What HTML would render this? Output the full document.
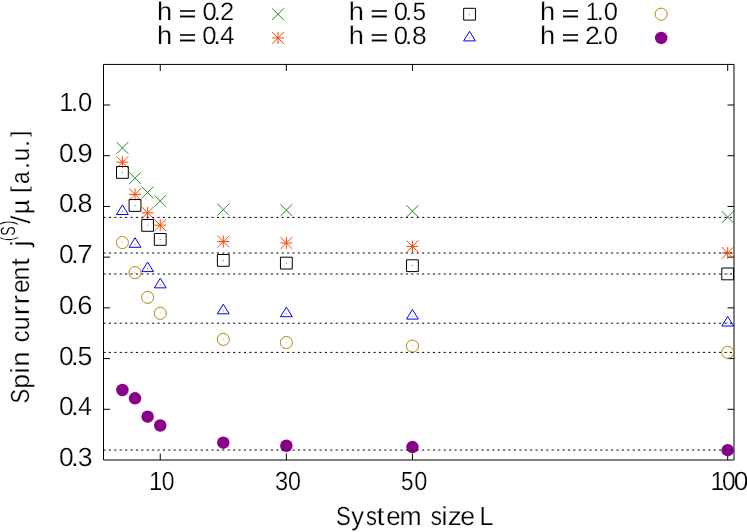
<!DOCTYPE html>
<html><head><meta charset="utf-8"><title>plot</title>
<style>
html,body{margin:0;padding:0;background:#fff;}
body{width:747px;height:532px;overflow:hidden;}
svg{display:block;will-change:transform;}
text{font-family:"Liberation Sans",sans-serif;fill:#000;text-rendering:geometricPrecision;stroke:#fff;stroke-width:0.25px;}
</style></head><body>
<svg width="747" height="532" viewBox="0 0 747 532">
<rect width="747" height="532" fill="#fff"/>

<path d="M103.5 409.29L110.0 409.29M734.0 409.29L727.5 409.29M103.5 358.57L110.0 358.57M734.0 358.57L727.5 358.57M103.5 307.86L110.0 307.86M734.0 307.86L727.5 307.86M103.5 257.14L110.0 257.14M734.0 257.14L727.5 257.14M103.5 206.43L110.0 206.43M734.0 206.43L727.5 206.43M103.5 155.72L110.0 155.72M734.0 155.72L727.5 155.72M103.5 105.00L110.0 105.00M734.0 105.00L727.5 105.00M160.25 460.0L160.25 453.5M160.25 64.43L160.25 70.93M286.35 460.0L286.35 453.5M286.35 64.43L286.35 70.93M412.44 460.0L412.44 453.5M412.44 64.43L412.44 70.93M727.69 460.0L727.69 453.5M727.69 64.43L727.69 70.93" stroke="#000" stroke-width="1" fill="none"/>
<path d="M103.5 64.43L103.5 460.0L734.0 460.0L734.0 64.43Z" stroke="#000" stroke-width="1" fill="none"/>
<text y="466.00" font-size="26.2"><tspan x="58.95" textLength="14.71" lengthAdjust="spacingAndGlyphs">0</tspan><tspan x="70.75" textLength="8.01" lengthAdjust="spacingAndGlyphs">.</tspan><tspan x="77.66" textLength="14.83" lengthAdjust="spacingAndGlyphs">3</tspan></text>
<text y="415.29" font-size="26.2"><tspan x="58.95" textLength="14.71" lengthAdjust="spacingAndGlyphs">0</tspan><tspan x="70.75" textLength="8.01" lengthAdjust="spacingAndGlyphs">.</tspan><tspan x="78.10" textLength="13.95" lengthAdjust="spacingAndGlyphs">4</tspan></text>
<text y="364.57" font-size="26.2"><tspan x="58.95" textLength="14.71" lengthAdjust="spacingAndGlyphs">0</tspan><tspan x="70.75" textLength="8.01" lengthAdjust="spacingAndGlyphs">.</tspan><tspan x="77.61" textLength="14.83" lengthAdjust="spacingAndGlyphs">5</tspan></text>
<text y="313.86" font-size="26.2"><tspan x="58.95" textLength="14.71" lengthAdjust="spacingAndGlyphs">0</tspan><tspan x="70.75" textLength="8.01" lengthAdjust="spacingAndGlyphs">.</tspan><tspan x="77.29" textLength="15.23" lengthAdjust="spacingAndGlyphs">6</tspan></text>
<text y="263.14" font-size="26.2"><tspan x="58.95" textLength="14.71" lengthAdjust="spacingAndGlyphs">0</tspan><tspan x="70.75" textLength="8.01" lengthAdjust="spacingAndGlyphs">.</tspan><tspan x="77.25" textLength="15.46" lengthAdjust="spacingAndGlyphs">7</tspan></text>
<text y="212.43" font-size="26.2"><tspan x="58.95" textLength="14.71" lengthAdjust="spacingAndGlyphs">0</tspan><tspan x="70.75" textLength="8.01" lengthAdjust="spacingAndGlyphs">.</tspan><tspan x="77.51" textLength="14.98" lengthAdjust="spacingAndGlyphs">8</tspan></text>
<text y="161.72" font-size="26.2"><tspan x="58.95" textLength="14.71" lengthAdjust="spacingAndGlyphs">0</tspan><tspan x="70.75" textLength="8.01" lengthAdjust="spacingAndGlyphs">.</tspan><tspan x="77.40" textLength="15.22" lengthAdjust="spacingAndGlyphs">9</tspan></text>
<text y="111.00" font-size="26.2"><tspan x="59.26" textLength="13.98" lengthAdjust="spacingAndGlyphs">1</tspan><tspan x="70.55" textLength="8.01" lengthAdjust="spacingAndGlyphs">.</tspan><tspan x="77.98" textLength="14.24" lengthAdjust="spacingAndGlyphs">0</tspan></text>
<text y="489.7" font-size="26.2"><tspan x="148.95" textLength="13.34" lengthAdjust="spacingAndGlyphs">1</tspan><tspan x="161.69" textLength="12.73" lengthAdjust="spacingAndGlyphs">0</tspan></text>
<text y="489.7" font-size="26.2"><tspan x="275.08" textLength="13.18" lengthAdjust="spacingAndGlyphs">3</tspan><tspan x="288.07" textLength="12.96" lengthAdjust="spacingAndGlyphs">0</tspan></text>
<text y="489.7" font-size="26.2"><tspan x="400.88" textLength="12.48" lengthAdjust="spacingAndGlyphs">5</tspan><tspan x="414.36" textLength="13.08" lengthAdjust="spacingAndGlyphs">0</tspan></text>
<text y="489.7" font-size="26.2"><tspan x="710.40" textLength="13.72" lengthAdjust="spacingAndGlyphs">1</tspan><tspan x="722.02" textLength="13.66" lengthAdjust="spacingAndGlyphs">0</tspan><tspan x="733.75" textLength="14.71" lengthAdjust="spacingAndGlyphs">0</tspan></text>
<text y="525" font-size="26.2"><tspan x="336.08" textLength="14.76" lengthAdjust="spacingAndGlyphs">S</tspan><tspan x="351.32" textLength="12.75" lengthAdjust="spacingAndGlyphs">y</tspan><tspan x="365.97" textLength="10.94" lengthAdjust="spacingAndGlyphs">s</tspan><tspan x="376.48" textLength="8.01" lengthAdjust="spacingAndGlyphs">t</tspan><tspan x="386.28" textLength="14.39" lengthAdjust="spacingAndGlyphs">e</tspan><tspan x="399.61" textLength="22.16" lengthAdjust="spacingAndGlyphs">m</tspan> <tspan x="430.86" textLength="11.17" lengthAdjust="spacingAndGlyphs">s</tspan><tspan x="441.31" textLength="6.40" lengthAdjust="spacingAndGlyphs">i</tspan><tspan x="447.79" textLength="14.02" lengthAdjust="spacingAndGlyphs">z</tspan><tspan x="460.24" textLength="14.86" lengthAdjust="spacingAndGlyphs">e</tspan> <tspan x="479.43" textLength="13.93" lengthAdjust="spacingAndGlyphs">L</tspan></text>
<g transform="translate(28.85,401) rotate(-90)">
<text y="0" font-size="26.2"><tspan x="-2.42" textLength="14.64" lengthAdjust="spacingAndGlyphs">S</tspan><tspan x="12.17" textLength="14.77" lengthAdjust="spacingAndGlyphs">p</tspan><tspan x="27.36" textLength="6.40" lengthAdjust="spacingAndGlyphs">i</tspan><tspan x="34.40" textLength="14.91" lengthAdjust="spacingAndGlyphs">n</tspan> <tspan x="58.78" textLength="11.76" lengthAdjust="spacingAndGlyphs">c</tspan><tspan x="70.86" textLength="13.86" lengthAdjust="spacingAndGlyphs">u</tspan><tspan x="85.78" textLength="9.60" lengthAdjust="spacingAndGlyphs">r</tspan><tspan x="96.63" textLength="9.60" lengthAdjust="spacingAndGlyphs">r</tspan><tspan x="107.94" textLength="13.68" lengthAdjust="spacingAndGlyphs">e</tspan><tspan x="120.52" textLength="13.93" lengthAdjust="spacingAndGlyphs">n</tspan><tspan x="135.13" textLength="8.01" lengthAdjust="spacingAndGlyphs">t</tspan> <tspan x="154.27" textLength="6.40" lengthAdjust="spacingAndGlyphs">j</tspan><tspan x="160.05" dy="-14.60" font-size="20.5" textLength="4.45" lengthAdjust="spacingAndGlyphs">(</tspan><tspan x="165.24" dy="0.75" font-size="20.5" textLength="9.43" lengthAdjust="spacingAndGlyphs">S</tspan><tspan x="175.80" dy="-0.75" font-size="20.5" textLength="4.70" lengthAdjust="spacingAndGlyphs">)</tspan><tspan x="177.27" dy="16.20" font-size="27" textLength="8.25" lengthAdjust="spacingAndGlyphs">/</tspan><tspan x="186.64" dy="-1.60" textLength="14.66" lengthAdjust="spacingAndGlyphs">µ</tspan> <tspan x="208.14" dy="-1.90" font-size="23" textLength="6.98" lengthAdjust="spacingAndGlyphs">[</tspan><tspan x="217.12" dy="1.90" textLength="12.60" lengthAdjust="spacingAndGlyphs">a</tspan><tspan x="231.55" textLength="8.01" lengthAdjust="spacingAndGlyphs">.</tspan><tspan x="239.80" textLength="13.54" lengthAdjust="spacingAndGlyphs">u</tspan><tspan x="253.57" textLength="8.01" lengthAdjust="spacingAndGlyphs">.</tspan><tspan x="263.90" dy="-1.90" font-size="23" textLength="6.49" lengthAdjust="spacingAndGlyphs">]</tspan></text>
</g>
<text y="20" font-size="26.2"><tspan x="157.14" font-size="25.6" textLength="15.15" lengthAdjust="spacingAndGlyphs">h</tspan> <tspan x="178.86" dy="1.00" font-size="22" stroke="#000" stroke-width="0.3" textLength="17.60" lengthAdjust="spacingAndGlyphs">=</tspan> <tspan x="202.48" dy="-1.00" font-size="25.2" textLength="14.24" lengthAdjust="spacingAndGlyphs">0</tspan><tspan x="213.55" font-size="25.2" textLength="7.70" lengthAdjust="spacingAndGlyphs">.</tspan><tspan x="220.09" font-size="25.2" textLength="14.21" lengthAdjust="spacingAndGlyphs">2</tspan></text>
<path d="M272.10 8.30L283.90 20.10M272.10 20.10L283.90 8.30" stroke="#228B22" fill="none"/>
<text y="44" font-size="26.2"><tspan x="157.14" font-size="25.6" textLength="15.15" lengthAdjust="spacingAndGlyphs">h</tspan> <tspan x="178.86" dy="1.00" font-size="22" stroke="#000" stroke-width="0.3" textLength="17.60" lengthAdjust="spacingAndGlyphs">=</tspan> <tspan x="202.28" dy="-1.00" font-size="25.2" textLength="14.24" lengthAdjust="spacingAndGlyphs">0</tspan><tspan x="213.35" font-size="25.2" textLength="7.70" lengthAdjust="spacingAndGlyphs">.</tspan><tspan x="220.08" font-size="25.2" textLength="14.61" lengthAdjust="spacingAndGlyphs">4</tspan></text>
<path d="M272.10 32.00L283.90 43.80M272.10 43.80L283.90 32.00M272.10 37.90L283.90 37.90M278.00 32.00L278.00 43.80" stroke="#FF4500" fill="none"/>
<text y="20" font-size="26.2"><tspan x="348.69" font-size="25.6" textLength="15.15" lengthAdjust="spacingAndGlyphs">h</tspan> <tspan x="370.41" dy="1.00" font-size="22" stroke="#000" stroke-width="0.3" textLength="17.60" lengthAdjust="spacingAndGlyphs">=</tspan> <tspan x="393.78" dy="-1.00" font-size="25.2" textLength="14.24" lengthAdjust="spacingAndGlyphs">0</tspan><tspan x="404.85" font-size="25.2" textLength="7.70" lengthAdjust="spacingAndGlyphs">.</tspan><tspan x="412.50" font-size="25.2" textLength="13.65" lengthAdjust="spacingAndGlyphs">5</tspan></text>
<path d="M463.65 8.30L463.65 20.10L475.45 20.10L475.45 8.30Z" stroke="#000000" fill="none"/><path d="M469.55 13.70L469.55 14.70" stroke="#000000" stroke-opacity="0.6" fill="none"/>
<text y="44" font-size="26.2"><tspan x="348.69" font-size="25.6" textLength="15.15" lengthAdjust="spacingAndGlyphs">h</tspan> <tspan x="370.41" dy="1.00" font-size="22" stroke="#000" stroke-width="0.3" textLength="17.60" lengthAdjust="spacingAndGlyphs">=</tspan> <tspan x="393.78" dy="-1.00" font-size="25.2" textLength="14.24" lengthAdjust="spacingAndGlyphs">0</tspan><tspan x="404.85" font-size="25.2" textLength="7.70" lengthAdjust="spacingAndGlyphs">.</tspan><tspan x="412.03" font-size="25.2" textLength="14.74" lengthAdjust="spacingAndGlyphs">8</tspan></text>
<path d="M463.65 40.90L469.55 31.30L475.45 40.90Z" stroke="#0000FF" fill="none"/><path d="M469.55 37.40L469.55 38.40" stroke="#0000FF" stroke-opacity="0.6" fill="none"/>
<text y="20" font-size="26.2"><tspan x="540.14" font-size="25.6" textLength="15.15" lengthAdjust="spacingAndGlyphs">h</tspan> <tspan x="561.86" dy="1.00" font-size="22" stroke="#000" stroke-width="0.3" textLength="17.60" lengthAdjust="spacingAndGlyphs">=</tspan> <tspan x="585.72" dy="-1.00" font-size="25.2" textLength="13.21" lengthAdjust="spacingAndGlyphs">1</tspan><tspan x="596.60" font-size="25.2" textLength="7.70" lengthAdjust="spacingAndGlyphs">.</tspan><tspan x="603.83" font-size="25.2" textLength="14.24" lengthAdjust="spacingAndGlyphs">0</tspan></text>
<circle cx="661.20" cy="14.20" r="6.05" stroke="#B8860B" fill="none"/><path d="M661.20 13.70L661.20 14.70" stroke="#B8860B" stroke-opacity="0.6" fill="none"/>
<text y="44" font-size="26.2"><tspan x="540.14" font-size="25.6" textLength="15.15" lengthAdjust="spacingAndGlyphs">h</tspan> <tspan x="561.86" dy="1.00" font-size="22" stroke="#000" stroke-width="0.3" textLength="17.60" lengthAdjust="spacingAndGlyphs">=</tspan> <tspan x="585.13" dy="-1.00" font-size="25.2" textLength="14.94" lengthAdjust="spacingAndGlyphs">2</tspan><tspan x="596.55" font-size="25.2" textLength="7.70" lengthAdjust="spacingAndGlyphs">.</tspan><tspan x="603.78" font-size="25.2" textLength="14.24" lengthAdjust="spacingAndGlyphs">0</tspan></text>
<circle cx="661.20" cy="37.90" r="6.25" fill="#8B008B"/>
<path d="M116.51 142.00L128.31 153.80M116.51 153.80L128.31 142.00" stroke="#228B22" fill="none"/>
<path d="M129.12 172.30L140.93 184.10M129.12 184.10L140.93 172.30" stroke="#228B22" fill="none"/>
<path d="M141.73 186.60L153.53 198.40M141.73 198.40L153.53 186.60" stroke="#228B22" fill="none"/>
<path d="M154.34 195.10L166.15 206.90M154.34 206.90L166.15 195.10" stroke="#228B22" fill="none"/>
<path d="M217.39 203.70L229.19 215.50M217.39 215.50L229.19 203.70" stroke="#228B22" fill="none"/>
<path d="M280.45 204.30L292.25 216.10M280.45 216.10L292.25 204.30" stroke="#228B22" fill="none"/>
<path d="M406.55 205.30L418.34 217.10M406.55 217.10L418.34 205.30" stroke="#228B22" fill="none"/>
<path d="M721.79 211.20L733.59 223.00M721.79 223.00L733.59 211.20" stroke="#228B22" fill="none"/>
<path d="M116.51 156.30L128.31 168.10M116.51 168.10L128.31 156.30M116.51 162.20L128.31 162.20M122.41 156.30L122.41 168.10" stroke="#FF4500" fill="none"/>
<path d="M129.12 188.50L140.93 200.30M129.12 200.30L140.93 188.50M129.12 194.40L140.93 194.40M135.03 188.50L135.03 200.30" stroke="#FF4500" fill="none"/>
<path d="M141.73 206.95L153.53 218.75M141.73 218.75L153.53 206.95M141.73 212.85L153.53 212.85M147.63 206.95L147.63 218.75" stroke="#FF4500" fill="none"/>
<path d="M154.34 219.30L166.15 231.10M154.34 231.10L166.15 219.30M154.34 225.20L166.15 225.20M160.25 219.30L160.25 231.10" stroke="#FF4500" fill="none"/>
<path d="M217.39 235.70L229.19 247.50M217.39 247.50L229.19 235.70M217.39 241.60L229.19 241.60M223.29 235.70L223.29 247.50" stroke="#FF4500" fill="none"/>
<path d="M280.45 237.10L292.25 248.90M280.45 248.90L292.25 237.10M280.45 243.00L292.25 243.00M286.35 237.10L286.35 248.90" stroke="#FF4500" fill="none"/>
<path d="M406.55 240.50L418.34 252.30M406.55 252.30L418.34 240.50M406.55 246.40L418.34 246.40M412.44 240.50L412.44 252.30" stroke="#FF4500" fill="none"/>
<path d="M721.79 247.00L733.59 258.80M721.79 258.80L733.59 247.00M721.79 252.90L733.59 252.90M727.69 247.00L727.69 258.80" stroke="#FF4500" fill="none"/>
<path d="M116.51 166.50L116.51 178.30L128.31 178.30L128.31 166.50Z" stroke="#000000" fill="none"/><path d="M122.41 171.90L122.41 172.90" stroke="#000000" stroke-opacity="0.6" fill="none"/>
<path d="M129.12 199.55L129.12 211.35L140.93 211.35L140.93 199.55Z" stroke="#000000" fill="none"/><path d="M135.03 204.95L135.03 205.95" stroke="#000000" stroke-opacity="0.6" fill="none"/>
<path d="M141.73 219.50L141.73 231.30L153.53 231.30L153.53 219.50Z" stroke="#000000" fill="none"/><path d="M147.63 224.90L147.63 225.90" stroke="#000000" stroke-opacity="0.6" fill="none"/>
<path d="M154.34 233.50L154.34 245.30L166.15 245.30L166.15 233.50Z" stroke="#000000" fill="none"/><path d="M160.25 238.90L160.25 239.90" stroke="#000000" stroke-opacity="0.6" fill="none"/>
<path d="M217.39 254.50L217.39 266.30L229.19 266.30L229.19 254.50Z" stroke="#000000" fill="none"/><path d="M223.29 259.90L223.29 260.90" stroke="#000000" stroke-opacity="0.6" fill="none"/>
<path d="M280.45 257.20L280.45 269.00L292.25 269.00L292.25 257.20Z" stroke="#000000" fill="none"/><path d="M286.35 262.60L286.35 263.60" stroke="#000000" stroke-opacity="0.6" fill="none"/>
<path d="M406.55 259.80L406.55 271.60L418.34 271.60L418.34 259.80Z" stroke="#000000" fill="none"/><path d="M412.44 265.20L412.44 266.20" stroke="#000000" stroke-opacity="0.6" fill="none"/>
<path d="M721.79 268.00L721.79 279.80L733.59 279.80L733.59 268.00Z" stroke="#000000" fill="none"/><path d="M727.69 273.40L727.69 274.40" stroke="#000000" stroke-opacity="0.6" fill="none"/>
<path d="M116.51 214.50L122.41 204.90L128.31 214.50Z" stroke="#0000FF" fill="none"/><path d="M122.41 211.00L122.41 212.00" stroke="#0000FF" stroke-opacity="0.6" fill="none"/>
<path d="M129.12 247.30L135.03 237.70L140.93 247.30Z" stroke="#0000FF" fill="none"/><path d="M135.03 243.80L135.03 244.80" stroke="#0000FF" stroke-opacity="0.6" fill="none"/>
<path d="M141.73 271.60L147.63 262.00L153.53 271.60Z" stroke="#0000FF" fill="none"/><path d="M147.63 268.10L147.63 269.10" stroke="#0000FF" stroke-opacity="0.6" fill="none"/>
<path d="M154.34 287.85L160.25 278.25L166.15 287.85Z" stroke="#0000FF" fill="none"/><path d="M160.25 284.35L160.25 285.35" stroke="#0000FF" stroke-opacity="0.6" fill="none"/>
<path d="M217.39 313.80L223.29 304.20L229.19 313.80Z" stroke="#0000FF" fill="none"/><path d="M223.29 310.30L223.29 311.30" stroke="#0000FF" stroke-opacity="0.6" fill="none"/>
<path d="M280.45 316.70L286.35 307.10L292.25 316.70Z" stroke="#0000FF" fill="none"/><path d="M286.35 313.20L286.35 314.20" stroke="#0000FF" stroke-opacity="0.6" fill="none"/>
<path d="M406.55 319.10L412.44 309.50L418.34 319.10Z" stroke="#0000FF" fill="none"/><path d="M412.44 315.60L412.44 316.60" stroke="#0000FF" stroke-opacity="0.6" fill="none"/>
<path d="M721.79 326.00L727.69 316.40L733.59 326.00Z" stroke="#0000FF" fill="none"/><path d="M727.69 322.50L727.69 323.50" stroke="#0000FF" stroke-opacity="0.6" fill="none"/>
<circle cx="122.41" cy="242.55" r="6.05" stroke="#B8860B" fill="none"/><path d="M122.41 242.05L122.41 243.05" stroke="#B8860B" stroke-opacity="0.6" fill="none"/>
<circle cx="135.03" cy="272.70" r="6.05" stroke="#B8860B" fill="none"/><path d="M135.03 272.20L135.03 273.20" stroke="#B8860B" stroke-opacity="0.6" fill="none"/>
<circle cx="147.63" cy="297.40" r="6.05" stroke="#B8860B" fill="none"/><path d="M147.63 296.90L147.63 297.90" stroke="#B8860B" stroke-opacity="0.6" fill="none"/>
<circle cx="160.25" cy="313.30" r="6.05" stroke="#B8860B" fill="none"/><path d="M160.25 312.80L160.25 313.80" stroke="#B8860B" stroke-opacity="0.6" fill="none"/>
<circle cx="223.29" cy="339.40" r="6.05" stroke="#B8860B" fill="none"/><path d="M223.29 338.90L223.29 339.90" stroke="#B8860B" stroke-opacity="0.6" fill="none"/>
<circle cx="286.35" cy="342.50" r="6.05" stroke="#B8860B" fill="none"/><path d="M286.35 342.00L286.35 343.00" stroke="#B8860B" stroke-opacity="0.6" fill="none"/>
<circle cx="412.44" cy="346.10" r="6.05" stroke="#B8860B" fill="none"/><path d="M412.44 345.60L412.44 346.60" stroke="#B8860B" stroke-opacity="0.6" fill="none"/>
<circle cx="727.69" cy="352.30" r="6.05" stroke="#B8860B" fill="none"/><path d="M727.69 351.80L727.69 352.80" stroke="#B8860B" stroke-opacity="0.6" fill="none"/>
<circle cx="122.41" cy="390.00" r="6.25" fill="#8B008B"/>
<circle cx="135.03" cy="398.30" r="6.25" fill="#8B008B"/>
<circle cx="147.63" cy="416.70" r="6.25" fill="#8B008B"/>
<circle cx="160.25" cy="425.50" r="6.25" fill="#8B008B"/>
<circle cx="223.29" cy="442.70" r="6.25" fill="#8B008B"/>
<circle cx="286.35" cy="445.75" r="6.25" fill="#8B008B"/>
<circle cx="412.44" cy="447.10" r="6.25" fill="#8B008B"/>
<circle cx="727.69" cy="450.20" r="6.25" fill="#8B008B"/>
<path d="M103.5 217.4L734.0 217.4" stroke="#000" stroke-width="1" stroke-dasharray="2.1 3.3" fill="none"/>
<path d="M103.5 253.0L734.0 253.0" stroke="#000" stroke-width="1" stroke-dasharray="2.1 3.3" fill="none"/>
<path d="M103.5 274.0L734.0 274.0" stroke="#000" stroke-width="1" stroke-dasharray="2.1 3.3" fill="none"/>
<path d="M103.5 323.2L734.0 323.2" stroke="#000" stroke-width="1" stroke-dasharray="2.1 3.3" fill="none"/>
<path d="M103.5 352.4L734.0 352.4" stroke="#000" stroke-width="1" stroke-dasharray="2.1 3.3" fill="none"/>
<path d="M103.5 450.05L734.0 450.05" stroke="#000" stroke-width="1" stroke-dasharray="2.1 3.3" fill="none"/>
</svg></body></html>
